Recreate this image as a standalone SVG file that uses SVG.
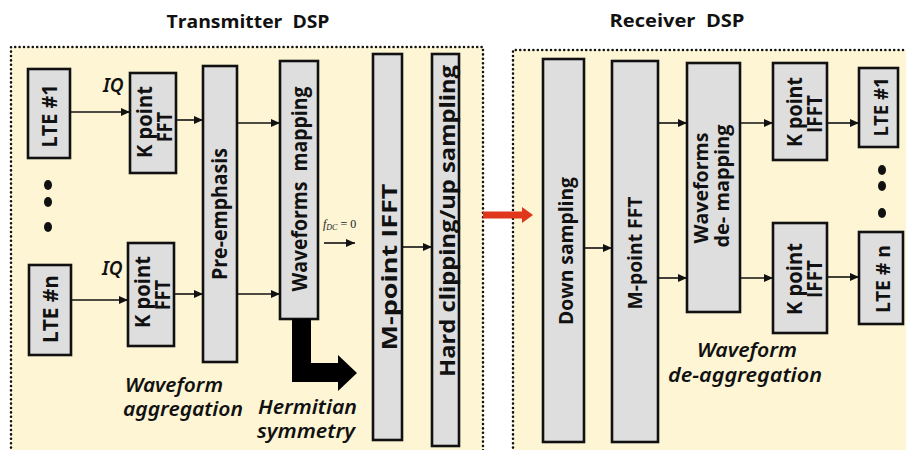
<svg xmlns="http://www.w3.org/2000/svg" width="906" height="450" viewBox="0 0 906 450">
<style>
.panel{fill:#fdf5d4;stroke:none}
.dots{fill:none;stroke:#111;stroke-width:2.6;stroke-dasharray:0 4.4;stroke-linecap:round}
.box{fill:#dedede;stroke:#111;stroke-width:2.6}
.bt{font-family:"Open Sans","DejaVu Sans",sans-serif;font-weight:700;font-size:21px;fill:#111;text-anchor:middle}
.title{font-family:"Open Sans","DejaVu Sans",sans-serif;font-weight:700;font-size:18px;fill:#111;text-anchor:middle}
.it{font-family:"Noto Sans","DejaVu Sans",sans-serif;font-style:italic;font-weight:600;font-size:19px;fill:#111}
.conn{stroke:#111;stroke-width:1.6;fill:none;marker-end:url(#ah)}
.dot{fill:#111}
</style>
<defs>
<marker id="ah" markerUnits="userSpaceOnUse" markerWidth="9" markerHeight="8" refX="9" refY="4" orient="auto">
<path d="M0,0 L9,4 L0,8 z" fill="#111"/>
</marker>
</defs>
<rect width="906" height="450" fill="#fff"/>
<!-- panels -->
<rect class="panel" x="11" y="47" width="472" height="410"/>
<path class="dots" d="M11,452 V47 H483 V452"/>
<rect class="panel" x="513" y="50" width="400" height="410"/>
<path class="dots" d="M513,452 V50 H910"/>
<text class="title" x="248" y="28" textLength="163" lengthAdjust="spacingAndGlyphs" xml:space="preserve">Transmitter  DSP</text>
<text class="title" x="677" y="27" textLength="135" lengthAdjust="spacingAndGlyphs" xml:space="preserve">Receiver  DSP</text>

<!-- Transmitter nodes -->
<g id="lte1-tx">
<rect class="box" x="28" y="69" width="42" height="89"/>
<text class="bt" transform="translate(57,116) rotate(-90)" textLength="63" lengthAdjust="spacingAndGlyphs">LTE #1</text>
</g>
<g id="dots-tx">
<ellipse class="dot" cx="48" cy="185" rx="4" ry="5"/>
<ellipse class="dot" cx="48" cy="202" rx="4" ry="5"/>
<ellipse class="dot" cx="48" cy="227" rx="4" ry="5"/>
</g>
<g id="lten-tx">
<rect class="box" x="29" y="265" width="42" height="90"/>
<text class="bt" transform="translate(58,309) rotate(-90)" textLength="68" lengthAdjust="spacingAndGlyphs">LTE #n</text>
</g>
<g id="kfft1">
<rect class="box" x="130" y="73" width="46" height="100"/>
<text class="bt" transform="translate(152,122) rotate(-90)" textLength="72" lengthAdjust="spacingAndGlyphs">K point</text>
<text class="bt" transform="translate(172,127) rotate(-90)" textLength="30" lengthAdjust="spacingAndGlyphs">FFT</text>
</g>
<g id="kfftn">
<rect class="box" x="128" y="243" width="46" height="103"/>
<text class="bt" transform="translate(150,292) rotate(-90)" textLength="72" lengthAdjust="spacingAndGlyphs">K point</text>
<text class="bt" transform="translate(170,295) rotate(-90)" textLength="30" lengthAdjust="spacingAndGlyphs">FFT</text>
</g>
<text class="it" x="103" y="92" font-size="18">IQ</text>
<text class="it" x="102" y="275" font-size="18">IQ</text>
<g id="preemph">
<rect class="box" x="203" y="66" width="34" height="296"/>
<text class="bt" transform="translate(227,214) rotate(-90)" textLength="132" lengthAdjust="spacingAndGlyphs">Pre-emphasis</text>
</g>
<g id="wfmap">
<rect class="box" x="280" y="61" width="38" height="258"/>
<text class="bt" transform="translate(307,189) rotate(-90)" textLength="205" lengthAdjust="spacingAndGlyphs" xml:space="preserve">Waveforms  mapping</text>
</g>
<g id="mifft">
<rect class="box" x="373" y="54" width="29" height="386"/>
<text class="bt" style="font-size:22px" transform="translate(397,267) rotate(-90)" textLength="167" lengthAdjust="spacingAndGlyphs">M-point IFFT</text>
</g>
<g id="hardclip">
<rect class="box" x="432" y="54" width="27" height="392"/>
<text class="bt" style="font-size:22px" transform="translate(455,221) rotate(-90)" textLength="312" lengthAdjust="spacingAndGlyphs">Hard clipping/up sampling</text>
</g>
<g id="hermitian">
<polygon points="292,319 311,319 311,363 338,363 338,355 357,373 338,391 338,382 292,382" fill="#000"/>
</g>
<text class="it" x="125" y="392" textLength="98" lengthAdjust="spacingAndGlyphs">Waveform</text>
<text class="it" x="123" y="416" textLength="120" lengthAdjust="spacingAndGlyphs">aggregation</text>
<text class="it" x="258" y="414" font-size="18" textLength="99" lengthAdjust="spacingAndGlyphs">Hermitian</text>
<text class="it" x="257" y="438" font-size="18" textLength="98" lengthAdjust="spacingAndGlyphs">symmetry</text>
<text x="323" y="228" font-family="Liberation Serif,serif" font-size="12" fill="#222"><tspan font-style="italic">f</tspan><tspan font-size="8" font-style="italic" dy="2">DC</tspan><tspan dy="-2"> = 0</tspan></text>

<!-- Receiver nodes -->
<g id="downsamp">
<rect class="box" x="543" y="59" width="41" height="383"/>
<text class="bt" style="font-size:20px" transform="translate(573,251) rotate(-90)" textLength="148" lengthAdjust="spacingAndGlyphs">Down sampling</text>
</g>
<g id="mfft">
<rect class="box" x="612" y="61" width="46" height="381"/>
<text class="bt" style="font-size:20px" transform="translate(642,253) rotate(-90)" textLength="113" lengthAdjust="spacingAndGlyphs">M-point FFT</text>
</g>
<g id="wfdemap">
<rect class="box" x="687" y="63" width="53" height="249"/>
<text class="bt" style="font-size:20px" transform="translate(708,188) rotate(-90)" textLength="111" lengthAdjust="spacingAndGlyphs">Waveforms</text>
<text class="bt" style="font-size:20px" transform="translate(729,186) rotate(-90)" textLength="123" lengthAdjust="spacingAndGlyphs">de- mapping</text>
</g>
<g id="kifft1">
<rect class="box" x="773" y="63" width="54" height="97"/>
<text class="bt" transform="translate(802,112) rotate(-90)" textLength="70" lengthAdjust="spacingAndGlyphs">K point</text>
<text class="bt" transform="translate(822,114) rotate(-90)" textLength="38" lengthAdjust="spacingAndGlyphs">IFFT</text>
</g>
<g id="kifftn">
<rect class="box" x="773" y="223" width="54" height="110"/>
<text class="bt" transform="translate(802,279) rotate(-90)" textLength="72" lengthAdjust="spacingAndGlyphs">K point</text>
<text class="bt" transform="translate(822,279) rotate(-90)" textLength="38" lengthAdjust="spacingAndGlyphs">IFFT</text>
</g>
<g id="lte1-rx">
<rect class="box" x="859" y="68" width="39" height="79"/>
<text class="bt" style="font-size:20px" transform="translate(888,107) rotate(-90)" textLength="59" lengthAdjust="spacingAndGlyphs">LTE #1</text>
</g>
<g id="dots-rx">
<ellipse class="dot" cx="882" cy="170" rx="4" ry="5"/>
<ellipse class="dot" cx="882" cy="186" rx="4" ry="5"/>
<ellipse class="dot" cx="882" cy="213" rx="4" ry="5"/>
</g>
<g id="lten-rx">
<rect class="box" x="859" y="232" width="44" height="92"/>
<text class="bt" style="font-size:20px" transform="translate(890,279) rotate(-90)" textLength="68" lengthAdjust="spacingAndGlyphs">LTE # n</text>
</g>
<text class="it" x="697" y="357" textLength="100" lengthAdjust="spacingAndGlyphs">Waveform</text>
<text class="it" x="668" y="382" textLength="154" lengthAdjust="spacingAndGlyphs">de-aggregation</text>

<!-- connectors -->
<g id="connectors">
<line class="conn" x1="71" y1="112" x2="130" y2="112"/>
<line class="conn" x1="176" y1="120" x2="203" y2="120"/>
<line class="conn" x1="237" y1="123" x2="280" y2="123"/>
<line class="conn" x1="71" y1="300" x2="128" y2="300"/>
<line class="conn" x1="174" y1="294" x2="203" y2="294"/>
<line class="conn" x1="237" y1="294" x2="280" y2="294"/>
<line class="conn" x1="324" y1="243" x2="355" y2="243"/>
<line class="conn" x1="402" y1="247" x2="432" y2="247"/>
<line class="conn" x1="584" y1="248" x2="612" y2="248"/>
<line class="conn" x1="658" y1="123" x2="687" y2="123"/>
<line class="conn" x1="658" y1="278" x2="687" y2="278"/>
<line class="conn" x1="740" y1="123" x2="773" y2="123"/>
<line class="conn" x1="740" y1="278" x2="773" y2="278"/>
<line class="conn" x1="827" y1="123" x2="859" y2="123"/>
<line class="conn" x1="827" y1="277" x2="859" y2="277"/>
<polygon id="tx-rx" points="483,211.5 522,211.5 522,207 533,215 522,223 522,218.5 483,218.5" fill="#e0361c"/>
</g>
</svg>
